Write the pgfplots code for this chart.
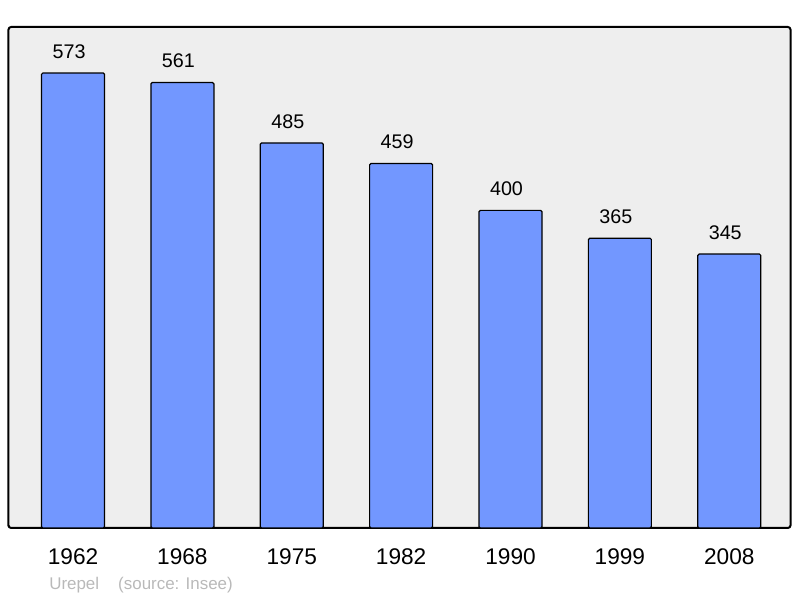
\documentclass[border=0pt]{standalone}
\usepackage{fontspec}
\setmainfont{Liberation Sans}
\usepackage{pgfplots}
\pgfplotsset{compat=1.18}

\definecolor{barblue}{RGB}{114,151,255}
\definecolor{panel}{RGB}{238,238,238}
\definecolor{srcgray}{RGB}{185,185,185}

\begin{document}
\begin{tikzpicture}
  \path[use as bounding box] (-6.375pt,-52.5pt) rectangle (593.625pt,396pt);
  \begin{axis}[
    at={(0,0)}, anchor=south west,
    scale only axis,
    width=586.5pt, height=375.75pt,
    xmin=-0.59, xmax=6.56, ymin=0, ymax=631,
    axis background/.style={fill=panel},
    axis line style={line width=1.5pt, rounded corners=2pt},
    ytick=\empty,
    xtick=data,
    xticklabels={1962,1968,1975,1982,1990,1999,2008},
    major tick length=0pt,
    /pgf/number format/assume math mode=true,
    xticklabel style={font=\fontsize{17}{20}\selectfont, anchor=base, yshift=-27.75pt},
    ybar, bar width=47.25pt,
    nodes near coords,
    every node near coord/.append style={font=\fontsize{14.8}{17}\selectfont, anchor=base, yshift=11pt, xshift=-3pt},
    clip=false,
  ]
    \addplot[fill=barblue, draw=black, line width=0.9pt, rounded corners=1pt]
      coordinates {(0,573) (1,561) (2,485) (3,459) (4,400) (5,365) (6,345)};
    \node[anchor=base west, text=srcgray, font=\fontsize{12.7}{15}\selectfont, inner sep=0pt]
      at ([xshift=30.4pt, yshift=-46.5pt]rel axis cs:0,0) {Urepel};
    \node[anchor=base west, text=srcgray, font=\fontsize{12.7}{15}\selectfont, inner sep=0pt]
      at ([xshift=82.1pt, yshift=-46.5pt]rel axis cs:0,0) {(source: Insee)};
  \end{axis}
\end{tikzpicture}
\end{document}
